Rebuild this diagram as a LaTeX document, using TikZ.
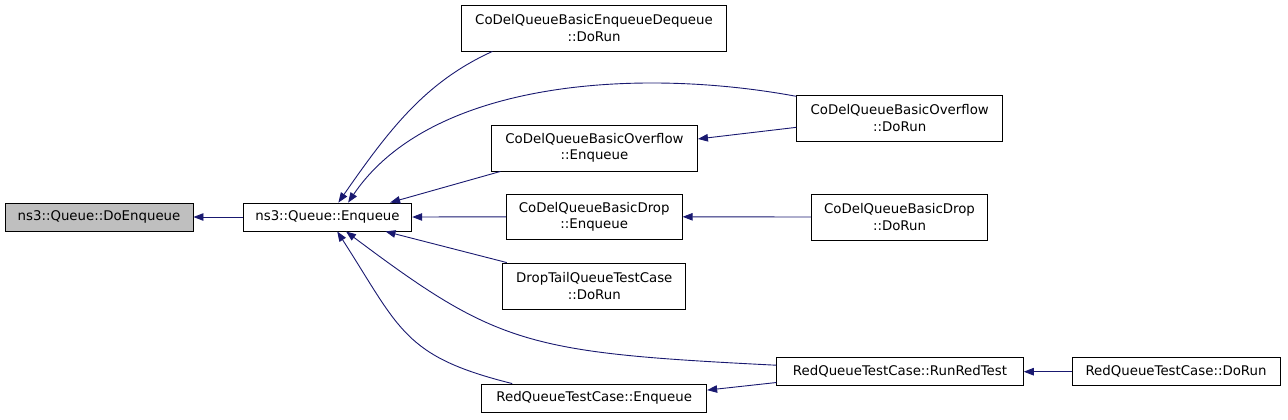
\documentclass[tikz,border=0pt]{standalone}
\usepackage{fontspec}
\setmainfont{DejaVu Sans}
\usetikzlibrary{arrows.meta}
\definecolor{edgecol}{RGB}{25,25,112}
\definecolor{boxgray}{RGB}{191,191,191}
\begin{document}
\begin{tikzpicture}[x=1bp,y=-1bp,
  fn/.style={draw=black, line width=0.9bp, fill=white, inner sep=0pt, align=center,
    font=\fontsize{13.33bp}{16.6bp}\selectfont},
  edge/.style={draw=edgecol, line width=0.9bp, -{Triangle[length=10bp,width=7.5bp]}}]
\useasboundingbox (0,0) rectangle (1288,419);
\node[fn, fill=boxgray, minimum width=188bp, minimum height=28bp] (deq) at (99,217) {ns3::Queue::DoEnqueue};
\node[fn, minimum width=168.5bp, minimum height=28bp] (enq) at (327.5,217) {ns3::Queue::Enqueue};
\node[fn, minimum width=265bp, minimum height=46bp] (ed) at (594,28) {CoDelQueueBasicEnqueueDequeue\\::DoRun};
\node[fn, minimum width=206bp, minimum height=46bp] (oe) at (594.5,148) {CoDelQueueBasicOverflow\\::Enqueue};
\node[fn, minimum width=206bp, minimum height=45.5bp] (od) at (899.7,118.3) {CoDelQueueBasicOverflow\\::DoRun};
\node[fn, minimum width=176bp, minimum height=45bp] (de) at (594.2,216.8) {CoDelQueueBasicDrop\\::Enqueue};
\node[fn, minimum width=176bp, minimum height=46bp] (dd) at (899.5,217) {CoDelQueueBasicDrop\\::DoRun};
\node[fn, minimum width=183bp, minimum height=46bp] (dt) at (594.3,286) {DropTailQueueTestCase\\::DoRun};
\node[fn, minimum width=225bp, minimum height=28bp] (re) at (594.2,398) {RedQueueTestCase::Enqueue};
\node[fn, minimum width=246.6bp, minimum height=28bp] (rr) at (900,371.7) {RedQueueTestCase::RunRedTest};
\node[fn, minimum width=208bp, minimum height=28bp] (rd) at (1176,371.7) {RedQueueTestCase::DoRun};

\draw[edge] (enq.west) -- (deq.east);
\draw[edge] (ed.193.5) .. controls +(-66,30) and +(52,-75) .. (enq.53);
\draw[edge] (od.168.3) .. controls +(-156,-29) and +(83,-123) .. (enq.35.7);
\draw[edge] (oe.194.7) -- (enq.13.9);
\draw[edge] (de.west) -- (enq.east);
\draw[edge] (dd.west) -- (de.east);
\draw[edge] (dt.165.6) -- (enq.346.3);
\draw[edge] (rr.177) .. controls +(-249,-12.5) and +(152,114) .. (enq.322.9);
\draw[edge] (re.170.9) .. controls +(-108.6,-27) and +(63,98) .. (enq.304.2);
\draw[edge] (rr.185.2) -- (re.4.9);
\draw[edge] (rd.west) -- (rr.east);
\draw[edge] (od.185.5) -- (oe.5.4);
\end{tikzpicture}
\end{document}
